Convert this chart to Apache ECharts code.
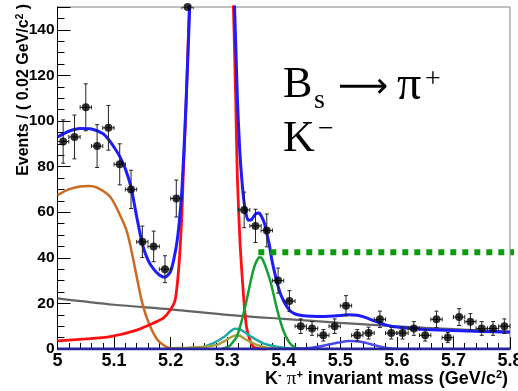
<!DOCTYPE html>
<html><head><meta charset="utf-8">
<script src="https://cdn.jsdelivr.net/npm/echarts@6/dist/echarts.min.js"></script>
<style>html,body{margin:0;padding:0;background:#fff}#c{width:518px;height:391px}</style>
</head><body><div id="c"></div>
<script>
// ---- data ----
const binCenters = [5.01,5.03,5.05,5.07,5.09,5.11,5.13,5.15,5.17,5.19,5.21,5.23,
  5.33,5.35,5.37,5.39,5.41,5.43,5.45,5.47,5.49,5.51,5.53,5.55,5.57,5.59,5.61,5.63,5.65,5.67,5.69,5.71,5.73,5.75,5.77,5.79];
const counts = [91,93,106,89,97,81,70,47,45,35,66,150,
  61,54,52,30,21,10,9,6,10,19,6,7,13,7,7,9,6,13,5,14,12,9,9,10];
const countErrors = [9.5,9.6,10.3,9.4,9.8,9.0,8.4,6.9,6.7,5.9,8.1,0,
  7.8,7.3,7.2,5.5,4.6,3.2,3.0,2.5,3.2,4.4,2.5,2.6,3.6,2.6,2.6,3.0,2.5,3.6,2.2,3.7,3.5,3.0,3.0,3.2];

const totalFit = [[5.00,93],[5.02,95.5],[5.04,96.7],[5.06,96.5],[5.08,94.5],[5.09,92],[5.10,88.5],[5.11,84.5],
  [5.12,79],[5.13,71],[5.14,58],[5.15,46],[5.16,39],[5.17,35],[5.18,32.5],[5.19,31.5],[5.20,34],[5.21,45],
  [5.215,55],[5.22,70],[5.225,95],[5.23,125],[5.235,160],[5.24,220],[5.25,330],[5.26,420],[5.27,450],
  [5.28,430],[5.29,350],[5.30,240],[5.305,190],[5.313,150],[5.318,110],[5.322,88],[5.326,74],[5.331,62.4],
  [5.337,56.5],[5.343,56.8],[5.35,59.2],[5.356,59.6],[5.361,58],[5.366,55],[5.37,50.8],[5.375,45],
  [5.379,39],[5.387,30.3],[5.393,25],[5.399,21.5],[5.405,18.8],[5.411,16.8],[5.418,15.6],[5.425,15],
  [5.44,14.5],[5.46,14.3],[5.48,14.4],[5.50,14.7],[5.515,15],[5.53,14.8],[5.54,14.2],[5.55,13.3],
  [5.56,12.3],[5.57,11.4],[5.58,10.6],[5.59,10.0],[5.60,9.6],[5.62,9.1],[5.65,8.6],[5.70,8.1],
  [5.75,7.7],[5.80,7.4]];
const signalBd = [[5.00,3.6],[5.05,4.4],[5.093,5.4],[5.14,8.3],[5.169,11.3],[5.187,13.5],[5.199,17],
  [5.208,21.5],[5.215,37.6],[5.22,59.5],[5.222,74],[5.227,105],[5.233,150],[5.24,215],[5.25,325],
  [5.26,415],[5.27,445],[5.28,425],[5.29,345],[5.30,235],[5.305,190],[5.311,150],[5.315,110],
  [5.318,75],[5.323,45],[5.329,23],[5.334,10],[5.34,4],[5.346,1],[5.355,0.2],[5.37,0]];
const partialBkg = [[5.00,67.5],[5.02,70],[5.04,71.3],[5.055,71.5],[5.07,70.8],[5.093,66.8],[5.11,59],
  [5.122,52],[5.13,44],[5.139,33],[5.15,20],[5.162,11],[5.177,4],[5.192,1],[5.205,0]];
const combBkg = [[5.0,22.2],[5.1,19.4],[5.2,17.4],[5.3,15.0],[5.4,13.2],[5.5,11.5],[5.6,9.9],[5.7,8.7],[5.8,7.6]];
const signalBs = [[5.29,0],[5.30,0.8],[5.305,1.5],[5.31,3],[5.317,5.4],[5.323,10],[5.329,15.6],[5.334,21],
  [5.34,28],[5.345,33.5],[5.35,37.5],[5.355,39.8],[5.358,40.2],[5.362,39.5],[5.368,36],[5.376,30],
  [5.382,24],[5.387,18.6],[5.393,13],[5.399,8.3],[5.405,5],[5.411,2.5],[5.418,1],[5.425,0.3],[5.44,0]];
const tealComp = [[5.24,0],[5.255,0.6],[5.264,1.5],[5.273,2.3],[5.282,3.4],[5.29,4.6],[5.299,6.2],
  [5.306,7.8],[5.314,8.9],[5.32,8.8],[5.327,8],[5.334,6.9],[5.343,5.3],[5.352,4],[5.361,2.8],
  [5.37,2],[5.385,1.1],[5.40,0.5],[5.42,0.2]];
const oliveComp = [[5.20,0.3],[5.23,0.6],[5.26,1.0],[5.282,1.8],[5.29,2.8],[5.299,4],[5.307,5.2],
  [5.315,5.9],[5.322,5.8],[5.33,4.6],[5.34,3.2],[5.35,2],[5.358,1.3],[5.37,0.6],[5.39,0.2]];
const bumpComp = [[5.42,0],[5.44,0.3],[5.46,1.0],[5.48,2.0],[5.50,3.0],[5.515,3.5],[5.53,3.4],
  [5.545,2.7],[5.56,1.7],[5.575,0.8],[5.59,0.2],[5.60,0]];
const zeroComp = [[5.0,0],[5.8,0]];
const markerLine = [[5.355,42.4],[5.814,42.4]];
const xTickLabels = ['5','5.1','5.2','5.3','5.4','5.5','5.6','5.7','5.8'];
const yTickLabels = ['0','20','40','60','80','100','120','140'];

// ---- chart ----
const points = binCenters.map((x,i)=>[x,counts[i],countErrors[i]]);
const sans = '"Liberation Sans", Arial, Helvetica, sans-serif';
const serif = '"Liberation Serif", "Times New Roman", serif';
function lineSeries(data, color, width, z, extra) {
  return Object.assign({type:'line', data, showSymbol:false, symbol:'none', smooth:0.3,
    lineStyle:{color, width}, z, silent:true, animation:false}, extra||{});
}
const chart = echarts.init(document.getElementById('c'), null, {renderer:'canvas'});
chart.setOption({
  animation:false,
  grid:{left:57.5, right:8, top:7, bottom:42, show:true, borderColor:'#808080', borderWidth:1,
    containLabel:false, outerBoundsMode:'none'},
  xAxis:{type:'value', min:5, max:5.8, interval:0.1,
    axisLine:{show:true, onZero:false, lineStyle:{color:'#000', width:1}},
    axisTick:{inside:true, length:12, lineStyle:{color:'#000', width:1}},
    minorTick:{show:true, splitNumber:5, length:6, lineStyle:{color:'#000', width:1}},
    splitLine:{show:false}, minorSplitLine:{show:false},
    axisLabel:{margin:3, color:'#000', fontFamily:sans, fontWeight:'bold', fontSize:18,
      showMaxLabel:true, hideOverlap:false,
      formatter:v=>xTickLabels[Math.round((v-5)*10)] || ''}},
  yAxis:{type:'value', min:0, max:150, interval:20,
    axisLine:{show:true, onZero:false, lineStyle:{color:'#000', width:1}},
    axisTick:{inside:true, length:13, lineStyle:{color:'#000', width:1}},
    minorTick:{show:true, splitNumber:4, length:7, lineStyle:{color:'#000', width:1}},
    splitLine:{show:false}, minorSplitLine:{show:false},
    axisLabel:{margin:3, color:'#000', fontFamily:sans, fontWeight:'bold', fontSize:15.5,
      showMaxLabel:false,
      formatter:v=>yTickLabels[Math.round(v/20)] || ''}},
  series:[
    lineSeries(combBkg,'#646464',2.2,2),
    lineSeries(partialBkg,'#cc6a22',2.5,3),
    lineSeries(signalBd,'#ff1010',2.8,4,{smooth:0.2}),
    lineSeries(tealComp,'#20a8a8',2.5,5),
    lineSeries(oliveComp,'#a8a040',2.5,5),
    lineSeries(signalBs,'#14a030',2.5,6),
    lineSeries(bumpComp,'#4a4aee',2.5,6),
    lineSeries(zeroComp,'#26269a',3,6,{smooth:false}),
    lineSeries(totalFit,'#1c1cff',3,7,{smooth:0.2}),
    lineSeries(markerLine,'#0e9a0e',6,8,{smooth:false, clip:false,
      lineStyle:{color:'#0e9a0e', width:6, type:[6,6], cap:'butt'}}),
    {type:'custom', data:points, z:9, clip:true, silent:true,
      renderItem(params, api){
        const x=api.value(0), y=api.value(1), e=api.value(2);
        const c=api.coord([x,y]);
        const lo=api.coord([x,y-e]), hi=api.coord([x,y+e]);
        const l=api.coord([x-0.01,y]), r=api.coord([x+0.01,y]);
        const st={stroke:'#222', lineWidth:1};
        const ch=[
          {type:'line', shape:{x1:l[0],y1:c[1],x2:r[0],y2:c[1]}, style:st},
          {type:'line', shape:{x1:l[0],y1:c[1]-2,x2:l[0],y2:c[1]+2}, style:st},
          {type:'line', shape:{x1:r[0],y1:c[1]-2,x2:r[0],y2:c[1]+2}, style:st}
        ];
        if (e>0) {
          ch.push({type:'line', shape:{x1:c[0],y1:lo[1],x2:c[0],y2:hi[1]}, style:st});
          ch.push({type:'line', shape:{x1:c[0]-2,y1:lo[1],x2:c[0]+2,y2:lo[1]}, style:st});
          ch.push({type:'line', shape:{x1:c[0]-2,y1:hi[1],x2:c[0]+2,y2:hi[1]}, style:st});
        }
        return {type:'group', children:ch};
      }},
    {type:'scatter', data:points.map(p=>[p[0],p[1]]), symbol:'circle', symbolSize:8, z:10,
      clip:false, itemStyle:{color:'#000'}, silent:true}
  ],
  graphic:[
    {type:'text', x:24, y:4, rotation:Math.PI/2, silent:true,
      style:{text:'{t|Events / ( 0.02 GeV/c}{s|2}{t| )}', align:'right', verticalAlign:'middle',
        rich:{t:{fontFamily:sans, fontWeight:'bold', fontSize:16, fill:'#000', lineHeight:18},
              s:{fontFamily:sans, fontWeight:'bold', fontSize:10, fill:'#000', verticalAlign:'top', lineHeight:10}}}},
    {type:'text', x:508, y:389, silent:true,
      style:{text:'{t|K}{s|-}{t| }{p|π}{s|+}{t| invariant mass (GeV/c}{s|2}{t|)}', align:'right', verticalAlign:'bottom',
        rich:{t:{fontFamily:sans, fontWeight:'bold', fontSize:18, fill:'#000', lineHeight:20},
              p:{fontFamily:serif, fontSize:19, fill:'#000', lineHeight:20},
              s:{fontFamily:sans, fontWeight:'bold', fontSize:11, fill:'#000', verticalAlign:'top', lineHeight:11}}}},
    {type:'text', x:283, y:85, silent:true, style:{text:'B', font:'44px '+serif, fill:'#000', align:'left', verticalAlign:'middle'}},
    {type:'text', x:314, y:101, silent:true, style:{text:'s', font:'28px '+serif, fill:'#000', align:'left', verticalAlign:'middle'}},
    {type:'text', x:363, y:88, silent:true, style:{text:'⟶', font:'35px "DejaVu Sans", sans-serif', fill:'#000', align:'center', verticalAlign:'middle'}},
    {type:'text', x:397, y:86, silent:true, style:{text:'π', font:'48px '+serif, fill:'#000', align:'left', verticalAlign:'middle'}},
    {type:'text', x:425, y:80, silent:true, style:{text:'+', font:'28px '+serif, fill:'#000', align:'left', verticalAlign:'middle'}},
    {type:'text', x:283, y:139, silent:true, style:{text:'K', font:'44px '+serif, fill:'#000', align:'left', verticalAlign:'middle'}},
    {type:'text', x:318, y:130, silent:true, style:{text:'−', font:'28px '+serif, fill:'#000', align:'left', verticalAlign:'middle'}}
  ]
});
</script></body></html>
